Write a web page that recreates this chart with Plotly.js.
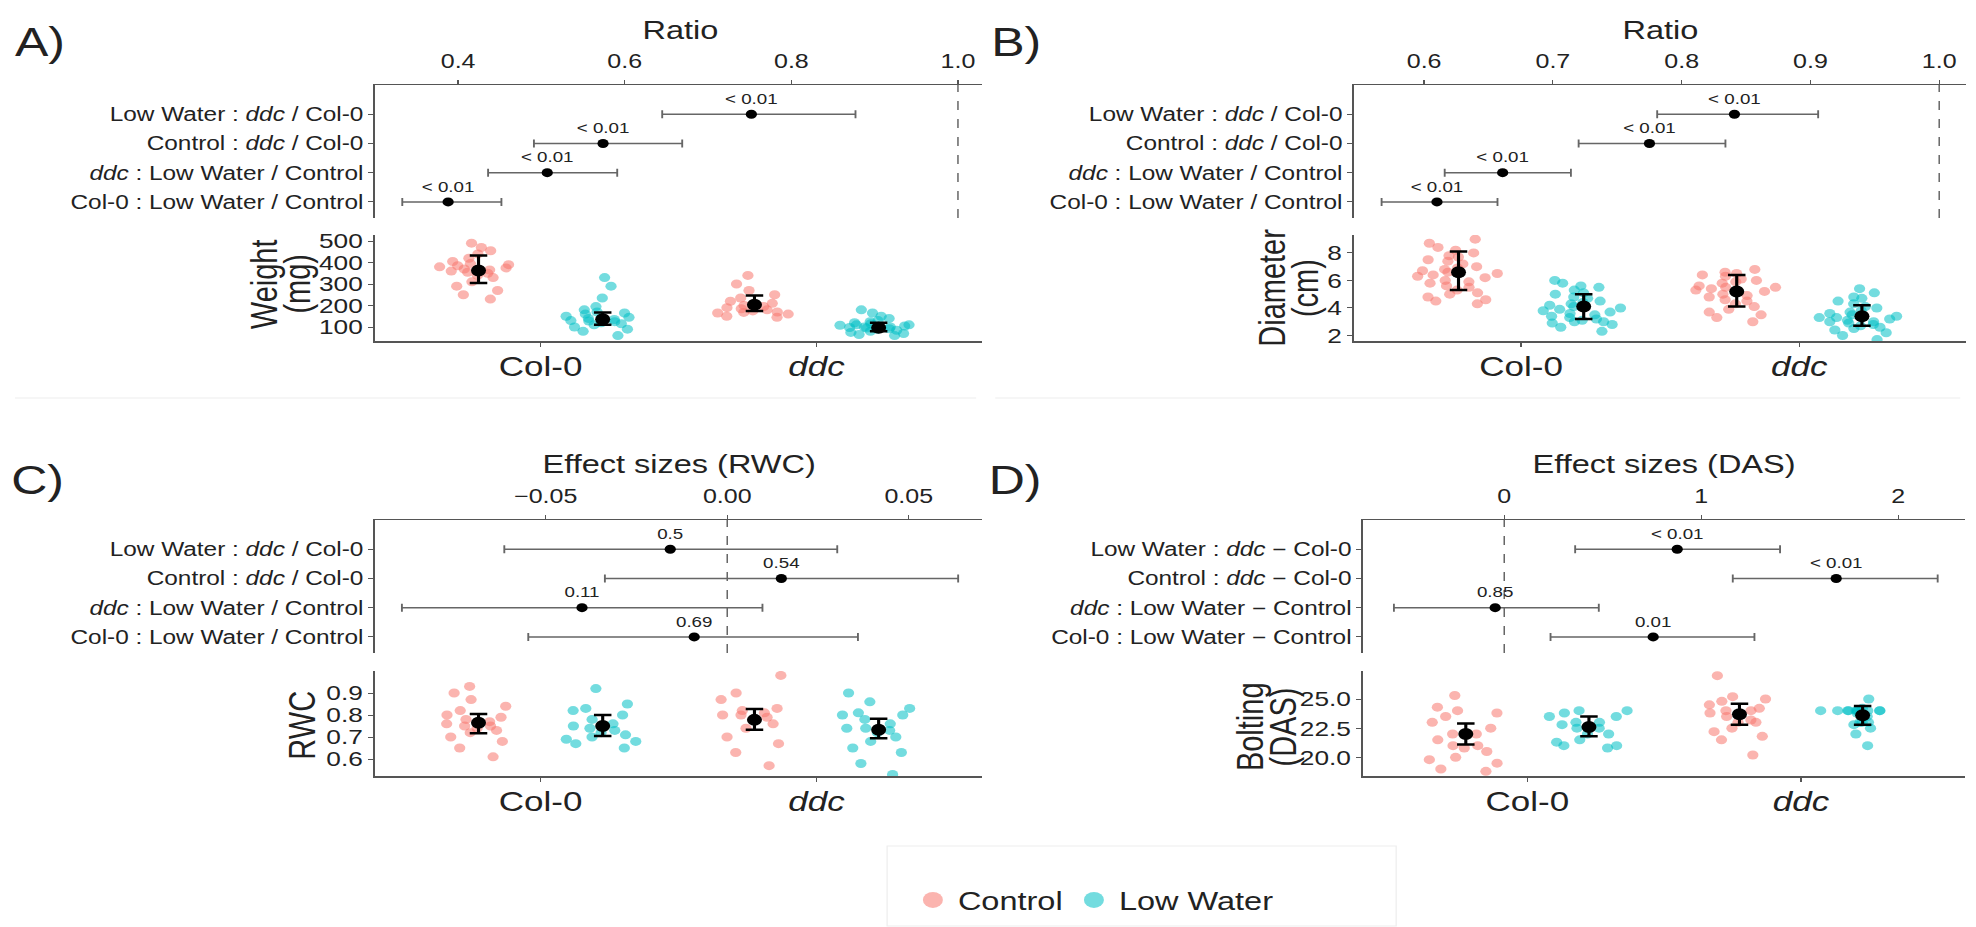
<!DOCTYPE html>
<html>
<head>
<meta charset="utf-8">
<script src="https://cdn.plot.ly/plotly-3.0.1.min.js"></script>
<style>
html, body { margin: 0; padding: 0; background: #fff; overflow: hidden; }
#chart { width: 1581px; height: 927px; transform: scaleX(1.25); transform-origin: 0 0; }
</style>
</head>
<body>
<div id="chart"></div>
<script>
// ---------------- DATA ----------------
const genotypes = ['Col-0', 'ddc'];
const genotypeTickText = ['Col-0', '<i>ddc</i>'];
const genotypePositions = [1, 2];
const conditions = ['Control', 'Low Water'];

// forest rows (bottom -> top)
const ratioRows = ['Col-0 : Low Water / Control', '<i>ddc</i> : Low Water / Control', 'Control : <i>ddc</i> / Col-0', 'Low Water : <i>ddc</i> / Col-0'];
const diffRows = ['Col-0 : Low Water \u2212 Control', '<i>ddc</i> : Low Water \u2212 Control', 'Control : <i>ddc</i> \u2212 Col-0', 'Low Water : <i>ddc</i> \u2212 Col-0'];

// A) weight ratio
const weightRatioEst = [0.388, 0.507, 0.574, 0.752];
const weightRatioLo  = [0.333, 0.436, 0.491, 0.645];
const weightRatioHi  = [0.452, 0.591, 0.669, 0.877];
const weightRatioP   = ['< 0.01', '< 0.01', '< 0.01', '< 0.01'];
// B) diameter ratio
const diameterRatioEst = [0.610, 0.661, 0.775, 0.841];
const diameterRatioLo  = [0.567, 0.616, 0.720, 0.781];
const diameterRatioHi  = [0.657, 0.714, 0.834, 0.906];
const diameterRatioP   = ['< 0.01', '< 0.01', '< 0.01', '< 0.01'];
// C) RWC effect sizes
const rwcEffectEst = [-0.0091, -0.040, 0.0149, -0.0157];
const rwcEffectLo  = [-0.0548, -0.0896, -0.0337, -0.0614];
const rwcEffectHi  = [0.036, 0.0097, 0.0636, 0.0303];
const rwcEffectP   = ['0.69', '0.11', '0.54', '0.5'];
// D) DAS effect sizes
const dasEffectEst = [0.756, -0.046, 1.685, 0.878];
const dasEffectLo  = [0.235, -0.56, 1.16, 0.36];
const dasEffectHi  = [1.27, 0.48, 2.20, 1.40];
const dasEffectP   = ['0.01', '0.85', '< 0.01', '< 0.01'];

// Raw observations
const weightCol0Control = [490, 470, 455, 440, 420, 405, 395, 390, 385, 380, 375, 370, 365, 360, 355, 350, 340, 330, 310, 290, 270, 250, 230];
const weightCol0LowWater = [330, 290, 235, 195, 180, 170, 165, 160, 150, 145, 140, 135, 130, 128, 125, 120, 115, 110, 100, 90, 80, 60];
const weightDdcControl = [340, 300, 270, 250, 235, 220, 210, 200, 195, 190, 185, 180, 175, 170, 168, 165, 160, 150, 145];
const weightDdcLowWater = [180, 165, 150, 140, 130, 125, 120, 115, 110, 110, 108, 105, 100, 100, 98, 95, 92, 90, 85, 80, 75, 70, 65, 60];
const weightMeanControl = [363, 204], weightLoControl = [305, 174], weightHiControl = [433, 247];
const weightMeanLowWater = [136, 97], weightLoLowWater = [111, 80], weightHiLowWater = [167, 120];

const diameterCol0Control = [9.0, 8.7, 8.4, 8.2, 8.0, 7.8, 7.7, 7.5, 7.4, 7.2, 7.0, 6.9, 6.8, 6.7, 6.6, 6.5, 6.4, 6.3, 6.2, 6.0, 5.9, 5.8, 5.6, 5.5, 5.3, 5.1, 5.0, 4.8, 4.6, 4.5, 4.3];
const diameterCol0LowWater = [6.0, 5.8, 5.6, 5.5, 5.3, 5.1, 5.0, 4.8, 4.7, 4.5, 4.4, 4.3, 4.2, 4.1, 4.0, 3.9, 3.8, 3.7, 3.6, 3.5, 3.4, 3.3, 3.2, 3.1, 3.0, 3.0, 2.9, 2.8, 2.6, 2.3];
const diameterDdcControl = [6.8, 6.6, 6.5, 6.4, 6.3, 6.1, 6.0, 5.9, 5.8, 5.6, 5.5, 5.5, 5.4, 5.3, 5.2, 5.0, 4.9, 4.8, 4.6, 4.5, 4.3, 4.1, 3.9, 3.7, 3.5, 3.3, 3.0];
const diameterDdcLowWater = [5.4, 5.1, 4.8, 4.7, 4.5, 4.3, 4.1, 4.0, 3.8, 3.7, 3.6, 3.5, 3.4, 3.3, 3.3, 3.2, 3.1, 3.0, 3.0, 2.9, 2.8, 2.7, 2.6, 2.5, 2.4, 2.2, 2.0, 1.7];
const diameterMeanControl = [6.6, 5.2], diameterLoControl = [5.3, 4.1], diameterHiControl = [8.1, 6.4];
const diameterMeanLowWater = [4.1, 3.4], diameterLoLowWater = [3.2, 2.7], diameterHiLowWater = [5.0, 4.2];

const rwcCol0Control = [0.93, 0.90, 0.87, 0.84, 0.82, 0.80, 0.79, 0.78, 0.77, 0.76, 0.75, 0.75, 0.74, 0.73, 0.72, 0.70, 0.68, 0.65, 0.61];
const rwcCol0LowWater = [0.92, 0.85, 0.83, 0.82, 0.80, 0.78, 0.76, 0.75, 0.74, 0.73, 0.72, 0.71, 0.70, 0.69, 0.68, 0.67, 0.65];
const rwcDdcControl = [0.98, 0.90, 0.87, 0.83, 0.82, 0.81, 0.80, 0.80, 0.79, 0.78, 0.76, 0.74, 0.70, 0.67, 0.63, 0.57];
const rwcDdcLowWater = [0.90, 0.86, 0.83, 0.81, 0.80, 0.80, 0.78, 0.76, 0.74, 0.74, 0.73, 0.72, 0.70, 0.68, 0.65, 0.63, 0.58, 0.53];
const rwcMeanControl = [0.765, 0.778], rwcLoControl = [0.717, 0.733], rwcHiControl = [0.805, 0.827];
const rwcMeanLowWater = [0.750, 0.733], rwcLoLowWater = [0.705, 0.695], rwcHiLowWater = [0.800, 0.783];

const dasCol0Control = [25.3, 24.3, 24.0, 23.8, 23.5, 23.0, 22.5, 22.0, 22.0, 21.5, 21.0, 21.0, 20.8, 20.5, 20.0, 19.8, 19.5, 19.0, 18.8];
const dasCol0LowWater = [24.0, 24.0, 23.8, 23.5, 23.5, 23.0, 23.0, 22.8, 22.5, 22.5, 22.0, 22.0, 21.5, 21.3, 21.0, 21.0, 20.8];
const dasDdcControl = [27.0, 25.2, 25.0, 24.8, 24.5, 24.2, 24.0, 24.0, 23.8, 23.5, 23.2, 23.0, 23.0, 22.5, 22.2, 21.8, 21.5, 20.2];
const dasDdcLowWater = [25.0, 24.2, 24.0, 24.0, 24.0, 24.0, 24.0, 24.0, 24.0, 24.0, 24.0, 24.0, 23.8, 23.5, 23.0, 23.0, 23.0, 22.8, 22.5, 22.0, 21.0];
const dasMeanControl = [22.0, 23.7], dasLoControl = [21.1, 22.8], dasHiControl = [22.9, 24.6];
const dasMeanLowWater = [22.6, 23.6], dasLoLowWater = [21.8, 22.8], dasHiLowWater = [23.5, 24.4];

// tick values
const weightRatioTicks = [0.4, 0.6, 0.8, 1.0];
const diameterRatioTicks = [0.6, 0.7, 0.8, 0.9, 1.0];
const rwcEffectTicks = [-0.05, 0, 0.05];
const dasEffectTicks = [0, 1, 2];
const weightTicks = [100, 200, 300, 400, 500];
const diameterTicks = [2, 4, 6, 8];
const rwcTicks = [0.6, 0.7, 0.8, 0.9];
const dasTicks = [20, 22.5, 25];
const ratioNull = 1;
const effectNull = 0;

// ---------------- STYLE / LAYOUT HELPERS ----------------
const FONT = 'Liberation Sans, Arial, sans-serif';
const TXT = '#222';
const LINE = '#555';
const COL_CTRL = 'rgba(248,118,109,0.55)';
const COL_LW = 'rgba(0,191,196,0.55)';
const DODGE = 0.225;
const W = 1976, H = 927;
const xd = px => px / W;
const yd = px => 1 - px / H;

const colA = [xd(375), xd(982)];
const colB = [xd(1354), xd(1966)];
const colD = [xd(1363), xd(1965)];
const rowF1 = [yd(218), yd(85)];
const rowS1 = [yd(341), yd(235)];
const rowF2 = [yd(653), yd(520)];
const rowS2 = [yd(776), yd(671)];

function forestX(domain, anchor, range, tickvals, fmt) {
  return { domain, anchor, range, side: 'top', tickvals, tickformat: fmt,
    showline: true, linecolor: LINE, linewidth: 1.4, ticks: 'outside', ticklen: 4, tickcolor: LINE, ticklabelstandoff: 4,
    tickfont: { size: 20, color: TXT, family: FONT }, showgrid: false, zeroline: false, fixedrange: true };
}
function forestY(domain, anchor, rows) {
  return { domain, anchor, type: 'category', categoryorder: 'array', categoryarray: rows, range: [-0.55, 4.0],
    showline: true, linecolor: LINE, linewidth: 1.4, ticks: 'outside', ticklen: 4, tickcolor: LINE,
    tickfont: { size: 19.5, color: TXT, family: FONT }, showgrid: false, zeroline: false, fixedrange: true };
}
function stripX(domain, anchor) {
  return { domain, anchor, range: [0.4, 2.6], tickvals: genotypePositions, ticktext: genotypeTickText,
    showline: true, linecolor: LINE, linewidth: 1.6, ticks: 'outside', ticklen: 4, tickcolor: LINE, ticklabelstandoff: -4,
    tickfont: { size: 28, color: TXT, family: FONT }, showgrid: false, zeroline: false, fixedrange: true };
}
function stripY(domain, anchor, range, tickvals, fmt) {
  return { domain, anchor, range, tickvals, tickformat: fmt,
    showline: true, linecolor: LINE, linewidth: 1.6, ticks: 'outside', ticklen: 4, tickcolor: LINE,
    tickfont: { size: 21, color: TXT, family: FONT }, showgrid: false, zeroline: false, fixedrange: true };
}

function forestTrace(xa, ya, rows, est, lo, hi, labels) {
  return { type: 'scatter', mode: 'markers+text', xaxis: xa, yaxis: ya, x: est, y: rows, text: labels,
    textposition: 'top center', textfont: { size: 15, color: TXT, family: FONT },
    marker: { color: '#000', size: 9 }, cliponaxis: false, showlegend: false, hoverinfo: 'x',
    error_x: { type: 'data', symmetric: false, array: hi.map((h, i) => h - est[i]), arrayminus: est.map((e, i) => e - lo[i]),
      color: '#666', thickness: 1.5, width: 4 } };
}
function pointsTrace(xa, ya, pos, vals, color) {
  return { type: 'box', xaxis: xa, yaxis: ya, x0: pos, y: vals, boxpoints: 'all', jitter: 0.75, pointpos: 0, width: 0.42,
    line: { width: 0, color: 'rgba(0,0,0,0)' }, fillcolor: 'rgba(0,0,0,0)', whiskerwidth: 0,
    marker: { color, size: 9, line: { width: 0 } }, showlegend: false, hoverinfo: 'y' };
}
function meanTrace(xa, ya, pos, mean, lo, hi) {
  return { type: 'scatter', mode: 'markers', xaxis: xa, yaxis: ya, x: pos, y: mean,
    marker: { color: '#000', size: 12 }, showlegend: false, hoverinfo: 'y', cliponaxis: false,
    error_y: { type: 'data', symmetric: false, array: hi.map((h, i) => h - mean[i]), arrayminus: mean.map((m, i) => m - lo[i]),
      color: '#000', thickness: 2.5, width: 7 } };
}

const posControl = genotypePositions.map(p => p - DODGE);
const posLowWater = genotypePositions.map(p => p + DODGE);

function stripTraces(xa, ya, c0c, c0l, ddc, ddl, mC, lC, hC, mL, lL, hL) {
  return [
    pointsTrace(xa, ya, posControl[0], c0c, COL_CTRL),
    pointsTrace(xa, ya, posLowWater[0], c0l, COL_LW),
    pointsTrace(xa, ya, posControl[1], ddc, COL_CTRL),
    pointsTrace(xa, ya, posLowWater[1], ddl, COL_LW),
    meanTrace(xa, ya, posControl, mC, lC, hC),
    meanTrace(xa, ya, posLowWater, mL, lL, hL)
  ];
}

const traces = [
  forestTrace('x', 'y', ratioRows, weightRatioEst, weightRatioLo, weightRatioHi, weightRatioP),
  ...stripTraces('x2', 'y2', weightCol0Control, weightCol0LowWater, weightDdcControl, weightDdcLowWater,
    weightMeanControl, weightLoControl, weightHiControl, weightMeanLowWater, weightLoLowWater, weightHiLowWater),
  forestTrace('x3', 'y3', ratioRows, diameterRatioEst, diameterRatioLo, diameterRatioHi, diameterRatioP),
  ...stripTraces('x4', 'y4', diameterCol0Control, diameterCol0LowWater, diameterDdcControl, diameterDdcLowWater,
    diameterMeanControl, diameterLoControl, diameterHiControl, diameterMeanLowWater, diameterLoLowWater, diameterHiLowWater),
  forestTrace('x5', 'y5', ratioRows, rwcEffectEst, rwcEffectLo, rwcEffectHi, rwcEffectP),
  ...stripTraces('x6', 'y6', rwcCol0Control, rwcCol0LowWater, rwcDdcControl, rwcDdcLowWater,
    rwcMeanControl, rwcLoControl, rwcHiControl, rwcMeanLowWater, rwcLoLowWater, rwcHiLowWater),
  forestTrace('x7', 'y7', diffRows, dasEffectEst, dasEffectLo, dasEffectHi, dasEffectP),
  ...stripTraces('x8', 'y8', dasCol0Control, dasCol0LowWater, dasDdcControl, dasDdcLowWater,
    dasMeanControl, dasLoControl, dasHiControl, dasMeanLowWater, dasLoLowWater, dasHiLowWater),
  // legend entries
  { type: 'scatter', mode: 'markers', xaxis: 'x2', yaxis: 'y2', x: [null], y: [null], name: conditions[0],
    marker: { color: COL_CTRL, size: 16 }, showlegend: true },
  { type: 'scatter', mode: 'markers', xaxis: 'x2', yaxis: 'y2', x: [null], y: [null], name: conditions[1],
    marker: { color: COL_LW, size: 16 }, showlegend: true }
];

function ann(text, xpx, ypx, size, extra) {
  return Object.assign({ text, xref: 'paper', yref: 'paper', x: xd(xpx), y: yd(ypx), showarrow: false,
    xanchor: 'center', yanchor: 'middle', font: { size, color: TXT, family: FONT } }, extra || {});
}
function refLine(xa, ya, v) {
  return { type: 'line', xref: xa, yref: ya + ' domain', x0: v, x1: v, y0: 0, y1: 1, layer: 'below',
    line: { color: '#666', width: 1.2, dash: 'dash' } };
}
function faint(x0, y0, x1, y1) {
  return { type: 'line', xref: 'paper', yref: 'paper', x0: xd(x0), x1: xd(x1), y0: yd(y0), y1: yd(y1),
    line: { color: '#eeeeee', width: 1 } };
}

const layout = {
  width: 1581, height: 927, autosize: false,
  margin: { l: 0, r: 0, t: 0, b: 0 },
  paper_bgcolor: '#fff', plot_bgcolor: '#fff',
  font: { family: FONT, color: TXT },
  showlegend: true,
  legend: { orientation: 'h', x: xd(1094), xanchor: 'center', y: yd(900), yanchor: 'middle',
    font: { size: 26, color: TXT, family: FONT }, bgcolor: 'rgba(0,0,0,0)', itemclick: false, itemdoubleclick: false },
  xaxis: forestX(colA, 'y', [0.3003, 1.029], weightRatioTicks, '.1f'),
  yaxis: forestY(rowF1, 'x', ratioRows),
  xaxis2: stripX(colA, 'y2'),
  yaxis2: stripY(rowS1, 'x2', [35, 528], weightTicks, 'd'),
  xaxis3: forestX(colB, 'y3', [0.5457, 1.021], diameterRatioTicks, '.1f'),
  yaxis3: forestY(rowF1, 'x3', ratioRows),
  xaxis4: stripX(colB, 'y4'),
  yaxis4: stripY(rowS1, 'x4', [1.6, 9.3], diameterTicks, 'd'),
  xaxis5: forestX(colA, 'y5', [-0.097, 0.0702], rwcEffectTicks, '.2f'),
  yaxis5: forestY(rowF2, 'x5', ratioRows),
  xaxis6: stripX(colA, 'y6'),
  yaxis6: stripY(rowS2, 'x6', [0.523, 1.0], rwcTicks, '.1f'),
  xaxis7: forestX(colD, 'y7', [-0.716, 2.34], dasEffectTicks, 'd'),
  yaxis7: forestY(rowF2, 'x7', diffRows),
  xaxis8: stripX(colD, 'y8'),
  yaxis8: stripY(rowS2, 'x8', [18.4, 27.4], dasTicks, '.1f'),
  shapes: [
    refLine('x', 'y', ratioNull), refLine('x3', 'y3', ratioNull),
    refLine('x5', 'y5', effectNull), refLine('x7', 'y7', effectNull),
    faint(15, 398, 976, 398), faint(995, 398, 1960, 398),
    { type: 'rect', xref: 'paper', yref: 'paper', x0: xd(887), x1: xd(1396), y0: yd(926), y1: yd(846),
      line: { color: '#eeeeee', width: 1 } }
  ],
  annotations: [
    ann('A)', 40, 42, 40), ann('B)', 1016, 42, 40), ann('C)', 38, 480, 40), ann('D)', 1015, 480, 40),
    ann('Ratio', 680, 30, 26), ann('Ratio', 1660, 30, 26),
    ann('Effect sizes (RWC)', 679, 464, 26), ann('Effect sizes (DAS)', 1663, 464, 26),
    ann('Weight', 264, 284, 29, { textangle: -90 }), ann('(mg)', 297, 284, 29, { textangle: -90 }),
    ann('Diameter', 1272, 288, 29, { textangle: -90 }), ann('(cm)', 1305, 288, 29, { textangle: -90 }),
    ann('RWC', 302, 725, 29, { textangle: -90 }),
    ann('Bolting', 1250, 727, 29, { textangle: -90 }), ann('(DAS)', 1283, 727, 29, { textangle: -90 })
  ]
};

Plotly.newPlot('chart', traces, layout, { displayModeBar: false, staticPlot: true });
</script>
</body>
</html>
